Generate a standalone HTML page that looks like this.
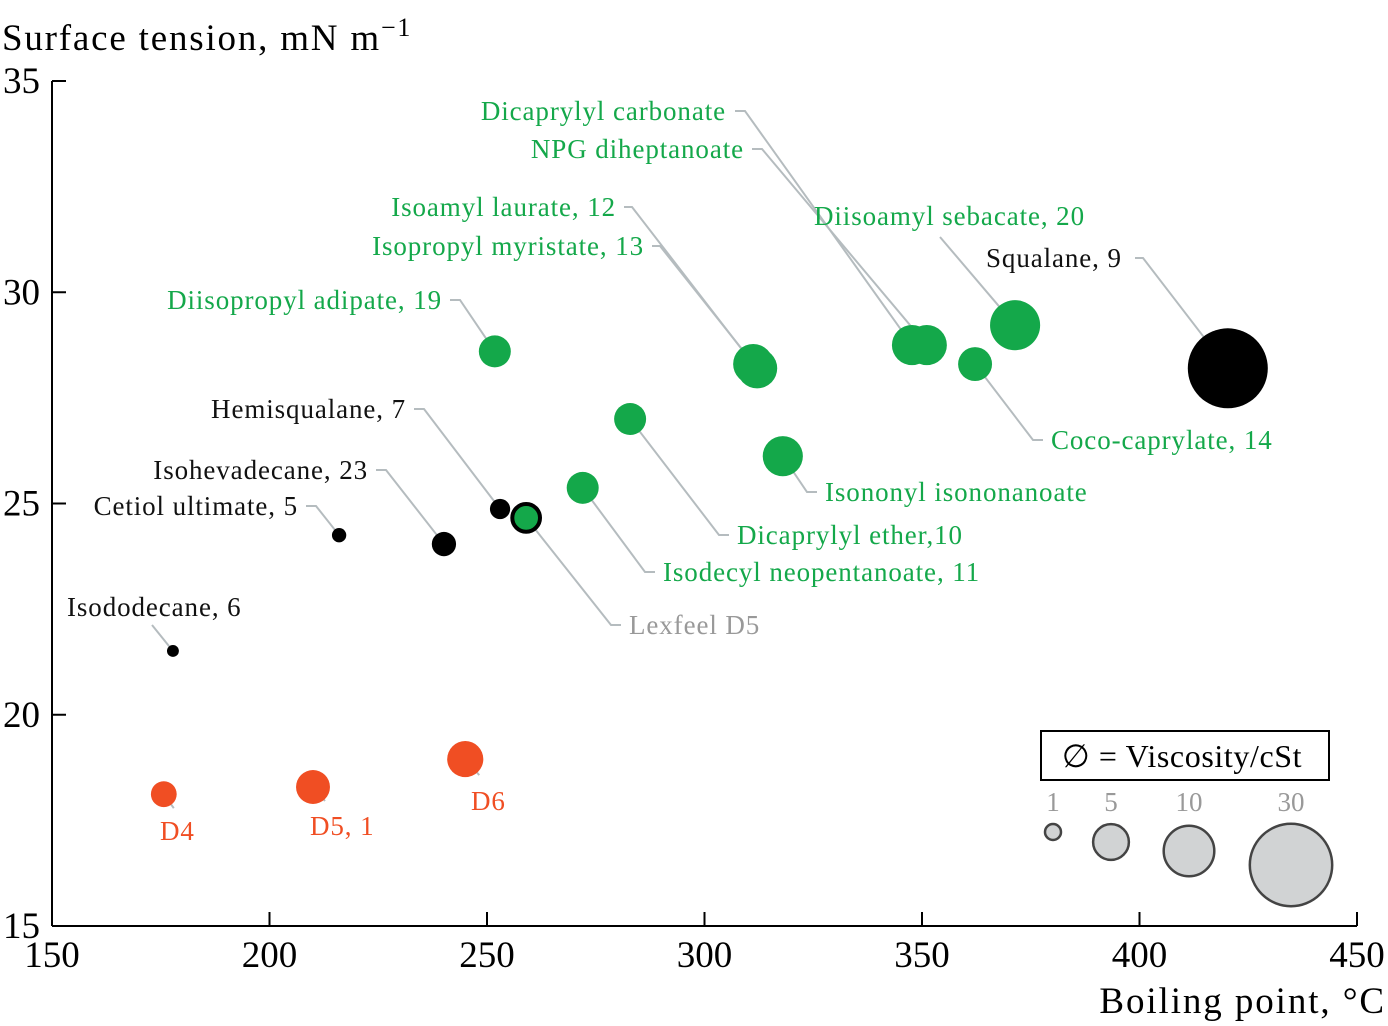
<!DOCTYPE html>
<html><head><meta charset="utf-8"><style>
html,body{margin:0;padding:0;background:#fff;}
svg{display:block;font-family:"Liberation Serif",serif;}
</style></head><body>
<svg id="chart" width="1388" height="1026" viewBox="0 0 1388 1026" xmlns="http://www.w3.org/2000/svg">
<g id="axes"></g><g id="leaders"></g><g id="marks"></g><g id="labels"></g><g id="legend"></g>
</svg>
<script>
const names = ["Dicaprylyl carbonate","NPG diheptanoate","Isoamyl laurate, 12","Isopropyl myristate, 13","Diisopropyl adipate, 19","Diisoamyl sebacate, 20","Squalane, 9","Coco-caprylate, 14","Isononyl isononanoate","Dicaprylyl ether,10","Isodecyl neopentanoate, 11","Lexfeel D5","Hemisqualane, 7","Isohevadecane, 23","Cetiol ultimate, 5","Isododecane, 6","D4","D5, 1","D6"];
const boilingPoint = [347.7,351.1,311.2,312.1,251.8,371.4,420.3,362.2,318.0,282.9,272.0,259.0,253.0,240.1,216.0,177.8,175.7,210.0,245.0];
const surfaceTension = [28.75,28.75,28.3,28.2,28.6,29.22,28.2,28.3,26.12,27.0,25.37,24.66,24.87,24.04,24.25,21.51,18.12,18.29,18.95];
const viscosity = [6.3,6.3,6.3,6.3,4.0,9.8,25.0,4.5,6.3,4.0,4.0,3.0,1.6,2.3,0.8,0.55,2.6,4.5,5.1];
const group = ["g","g","g","g","g","g","k","g","g","g","g","l","k","k","k","k","o","o","o"];
const xTicks = [150,200,250,300,350,400,450];
const yTicks = [15,20,25,30,35];
const legendVisc = [1,5,10,30];

const X = v => 52 + (v-150)*4.35;
const Y = v => 926 - (v-15)*42.25;
const R = v => 8*Math.sqrt(v);
const NS="http://www.w3.org/2000/svg";
function mk(tag, attrs, parent, text){const e=document.createElementNS(NS,tag);for(const k in attrs)e.setAttribute(k,attrs[k]);if(text!==undefined)e.textContent=text;parent.appendChild(e);return e;}
const axes=document.getElementById('axes');
let a=mk('line',{x1:52,y1:926,x2:1357,y2:926,stroke:'#000','stroke-width':2},axes);


a=mk('line',{x1:52,y1:81,x2:52,y2:926,stroke:'#000','stroke-width':2},axes);


xTicks.forEach(t=>{
  mk('line',{x1:X(t),y1:926,x2:X(t),y2:912,stroke:'#000','stroke-width':2},axes);
  const tx=mk('text',{x:X(t),y:967,'font-size':37,'text-anchor':'middle'},axes,String(t));
  
  
});
yTicks.forEach(t=>{
  mk('line',{x1:52,y1:Y(t),x2:66,y2:Y(t),stroke:'#000','stroke-width':2},axes);
  const tx=mk('text',{x:40,y:Y(t)+12,'font-size':37,'text-anchor':'end'},axes,String(t));
  
  
});
let t=mk('text',{x:2,y:50,'font-size':37,'letter-spacing':1.8},axes);


t.innerHTML='Surface tension, mN m<tspan dy="-14" font-size="26">−1</tspan>';
t=mk('text',{x:1386,y:1013,'font-size':37,'text-anchor':'end','letter-spacing':1.9},axes,'Boiling point, °C');



// label layout: [x, y, anchor, elbow-x1, elbow-x2]
const layout=[[726,111,'end',735,745],[744,149,'end',752,762],[616,207,'end',624,632],[644,246,'end',652,660],[442,300,'end',450,460],[814,216,'start',null,null],[986,258,'start',1135,1143],[1051,440,'start',1043,1033],[825,492,'start',817,807],[737,535,'start',729,719],[663,572,'start',655,645],[629,625,'start',621,611],[406,409,'end',414,424],[368,470,'end',376,386],[298,506,'end',306,316],[67,607,'start',null,null],[160,831,'start',null,null],[310,826,'start',null,null],[471,801,'start',null,null]];
const colors={g:'#14a84a',k:'#000',l:'#14a84a',o:'#f04e23'};
const textColors={g:'#14a84a',k:'#111',l:'#999',o:'#f04e23'};
const leaders=document.getElementById('leaders'),marks=document.getElementById('marks'),labels=document.getElementById('labels');
names.forEach((n,i)=>{
  const cx=X(boilingPoint[i]),cy=Y(surfaceTension[i]),r=R(viscosity[i]);
  const L=layout[i];
  let pts;
  if(L[3]!==null) pts=`${L[3]},${L[1]} ${L[4]},${L[1]} ${cx},${cy}`;
  else if(i===5) pts=`940,237 ${cx},${cy}`;
  else if(i===15) pts=`152,625 ${cx},${cy}`;
  else if(i===16) pts=`${cx},${cy} ${cx+10},${cy+14}`;
  else if(i===17) pts=`${cx},${cy} ${cx+12},${cy+14}`;
  else pts=`${cx},${cy} ${cx+14},${cy+16}`;
  mk('polyline',{points:pts,fill:'none',stroke:'#b5bcbf','stroke-width':2},leaders);
  let c;
  if(group[i]==='l'){c=mk('circle',{cx,cy,r,fill:'#14a84a',stroke:'#000','stroke-width':4},marks);}
  else c=mk('circle',{cx,cy,r,fill:colors[group[i]]},marks);
  
  
  const tx=mk('text',{x:L[0],y:L[1]+9,'font-size':27,'letter-spacing':0.9,'text-anchor':L[2],fill:textColors[group[i]]},labels,n);
  
  
});
const lg=document.getElementById('legend');
let b=mk('rect',{x:1041,y:731,width:288,height:49,fill:'#fff',stroke:'#000','stroke-width':2},lg);


b=mk('text',{x:1182,y:767,'font-size':32,'text-anchor':'middle','letter-spacing':0.6},lg,'∅ = Viscosity/cSt');


const legX=[1053,1111,1189,1291];
legendVisc.forEach((v,i)=>{
  const r=R(v)*(i===3?0.94:1);
  const cy=[832,842,851,865][i];
  const c=mk('circle',{cx:legX[i],cy,r,fill:'#d1d3d4',stroke:'#444','stroke-width':2.5},lg);
  
  
  const tx=mk('text',{x:legX[i],y:811,'font-size':27,'text-anchor':'middle',fill:'#999'},lg,String(v));
  
  
});
</script>
</body></html>
